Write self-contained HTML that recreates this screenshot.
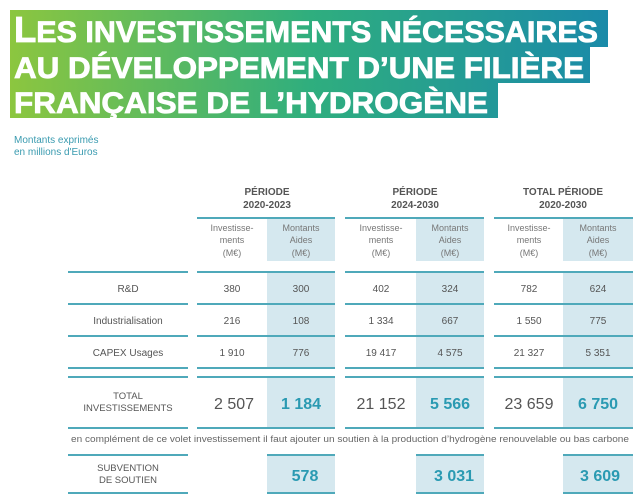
<!DOCTYPE html>
<html><head><meta charset="utf-8"><style>
html,body{margin:0;padding:0;background:#fff;}
svg{display:block;font-family:"Liberation Sans",sans-serif;}
</style></head><body>
<svg width="643" height="500" viewBox="0 0 643 500" xmlns="http://www.w3.org/2000/svg">
<defs>
<linearGradient id="g" gradientUnits="userSpaceOnUse" x1="10" y1="0" x2="610" y2="0">
<stop offset="0" stop-color="#8cc63f"/><stop offset="0.5" stop-color="#2fae7e"/><stop offset="1" stop-color="#1a8aa9"/>
</linearGradient>
</defs>
<rect x="10" y="10" width="598" height="37" fill="url(#g)"/>
<rect x="10" y="46" width="580" height="37" fill="url(#g)"/>
<rect x="10" y="82" width="488" height="36" fill="url(#g)"/>
<g fill="#fff" font-weight="bold" stroke="#fff" stroke-width="0.8">
<text x="14" y="42" font-size="36" textLength="584" lengthAdjust="spacingAndGlyphs">L<tspan font-size="30">ES INVESTISSEMENTS NÉCESSAIRES</tspan></text>
<text x="14" y="78" font-size="30" textLength="570" lengthAdjust="spacingAndGlyphs">AU DÉVELOPPEMENT D’UNE FILIÈRE</text>
<text x="14" y="113" font-size="30" textLength="474" lengthAdjust="spacingAndGlyphs">FRANÇAISE DE L’HYDROGÈNE</text>
</g>
<g fill="#3a9bb0" font-size="10">
<text x="14" y="143">Montants exprimés</text>
<text x="14" y="155">en millions d'Euros</text>
</g>

<g fill="#d5e8ef">
<rect x="267" y="218" width="68" height="43"/><rect x="416" y="218" width="68" height="43"/><rect x="563" y="218" width="70" height="43"/>
<rect x="267" y="272" width="68" height="96"/><rect x="416" y="272" width="68" height="96"/><rect x="563" y="272" width="70" height="96"/>
<rect x="267" y="377" width="68" height="51"/><rect x="416" y="377" width="68" height="51"/><rect x="563" y="377" width="70" height="51"/>
<rect x="267" y="455" width="68" height="38"/><rect x="416" y="455" width="68" height="38"/><rect x="563" y="455" width="70" height="38"/>
</g>
<g stroke="#4fa9ba" stroke-width="2">
<line x1="197" y1="218" x2="335" y2="218"/><line x1="345" y1="218" x2="484" y2="218"/><line x1="494" y1="218" x2="633" y2="218"/>
<line x1="68" y1="272" x2="188" y2="272"/><line x1="197" y1="272" x2="335" y2="272"/><line x1="345" y1="272" x2="484" y2="272"/><line x1="494" y1="272" x2="633" y2="272"/>
<line x1="68" y1="304" x2="188" y2="304"/><line x1="197" y1="304" x2="335" y2="304"/><line x1="345" y1="304" x2="484" y2="304"/><line x1="494" y1="304" x2="633" y2="304"/>
<line x1="68" y1="336" x2="188" y2="336"/><line x1="197" y1="336" x2="335" y2="336"/><line x1="345" y1="336" x2="484" y2="336"/><line x1="494" y1="336" x2="633" y2="336"/>
<line x1="68" y1="368" x2="188" y2="368"/><line x1="197" y1="368" x2="335" y2="368"/><line x1="345" y1="368" x2="484" y2="368"/><line x1="494" y1="368" x2="633" y2="368"/>
<line x1="68" y1="377" x2="188" y2="377"/><line x1="197" y1="377" x2="335" y2="377"/><line x1="345" y1="377" x2="484" y2="377"/><line x1="494" y1="377" x2="633" y2="377"/>
<line x1="68" y1="428" x2="188" y2="428"/><line x1="197" y1="428" x2="335" y2="428"/><line x1="345" y1="428" x2="484" y2="428"/><line x1="494" y1="428" x2="633" y2="428"/>
<line x1="68" y1="455" x2="188" y2="455"/><line x1="267" y1="455" x2="335" y2="455"/><line x1="416" y1="455" x2="484" y2="455"/><line x1="563" y1="455" x2="633" y2="455"/>
<line x1="68" y1="493" x2="188" y2="493"/><line x1="267" y1="493" x2="335" y2="493"/><line x1="416" y1="493" x2="484" y2="493"/><line x1="563" y1="493" x2="633" y2="493"/>
</g>
<g fill="#555" font-size="10" font-weight="bold" text-anchor="middle">
<text x="267" y="195">PÉRIODE</text><text x="267" y="208">2020-2023</text>
<text x="415" y="195">PÉRIODE</text><text x="415" y="208">2024-2030</text>
<text x="563" y="195">TOTAL PÉRIODE</text><text x="563" y="208">2020-2030</text>
</g>
<g fill="#777" font-size="9" text-anchor="middle">
<text x="232" y="231">Investisse-</text><text x="232" y="243">ments</text><text x="232" y="256">(M€)</text>
<text x="301" y="231">Montants</text><text x="301" y="243">Aides</text><text x="301" y="256">(M€)</text>
<text x="381" y="231">Investisse-</text><text x="381" y="243">ments</text><text x="381" y="256">(M€)</text>
<text x="450" y="231">Montants</text><text x="450" y="243">Aides</text><text x="450" y="256">(M€)</text>
<text x="529" y="231">Investisse-</text><text x="529" y="243">ments</text><text x="529" y="256">(M€)</text>
<text x="598" y="231">Montants</text><text x="598" y="243">Aides</text><text x="598" y="256">(M€)</text>
</g>
<g fill="#555" font-size="10" text-anchor="middle">
<text x="128" y="292">R&amp;D</text><text x="128" y="324">Industrialisation</text><text x="128" y="356">CAPEX Usages</text>
<text x="232" y="292">380</text><text x="301" y="292">300</text><text x="381" y="292">402</text><text x="450" y="292">324</text><text x="529" y="292">782</text><text x="598" y="292">624</text>
<text x="232" y="324">216</text><text x="301" y="324">108</text><text x="381" y="324">1 334</text><text x="450" y="324">667</text><text x="529" y="324">1 550</text><text x="598" y="324">775</text>
<text x="232" y="356">1 910</text><text x="301" y="356">776</text><text x="381" y="356">19 417</text><text x="450" y="356">4 575</text><text x="529" y="356">21 327</text><text x="598" y="356">5 351</text>
<text x="128" y="399" font-size="9.5">TOTAL</text><text x="128" y="411" font-size="9.5">INVESTISSEMENTS</text>
<text x="128" y="471" font-size="9.5">SUBVENTION</text><text x="128" y="483" font-size="9.5">DE SOUTIEN</text>
</g>
<g font-size="16" text-anchor="middle">
<text x="234" y="409" fill="#555">2 507</text><text x="301" y="409" fill="#2a9ab2" font-weight="bold">1 184</text>
<text x="381" y="409" fill="#555">21 152</text><text x="450" y="409" fill="#2a9ab2" font-weight="bold">5 566</text>
<text x="529" y="409" fill="#555">23 659</text><text x="598" y="409" fill="#2a9ab2" font-weight="bold">6 750</text>
<text x="305" y="481" fill="#2a9ab2" font-weight="bold">578</text>
<text x="454" y="481" fill="#2a9ab2" font-weight="bold">3 031</text>
<text x="600" y="481" fill="#2a9ab2" font-weight="bold">3 609</text>
</g>
<text x="350" y="442" fill="#666" font-size="9" text-anchor="middle" textLength="558" lengthAdjust="spacingAndGlyphs">en complément de ce volet investissement il faut ajouter un soutien à la production d’hydrogène renouvelable ou bas carbone</text>
</svg>
</body></html>
